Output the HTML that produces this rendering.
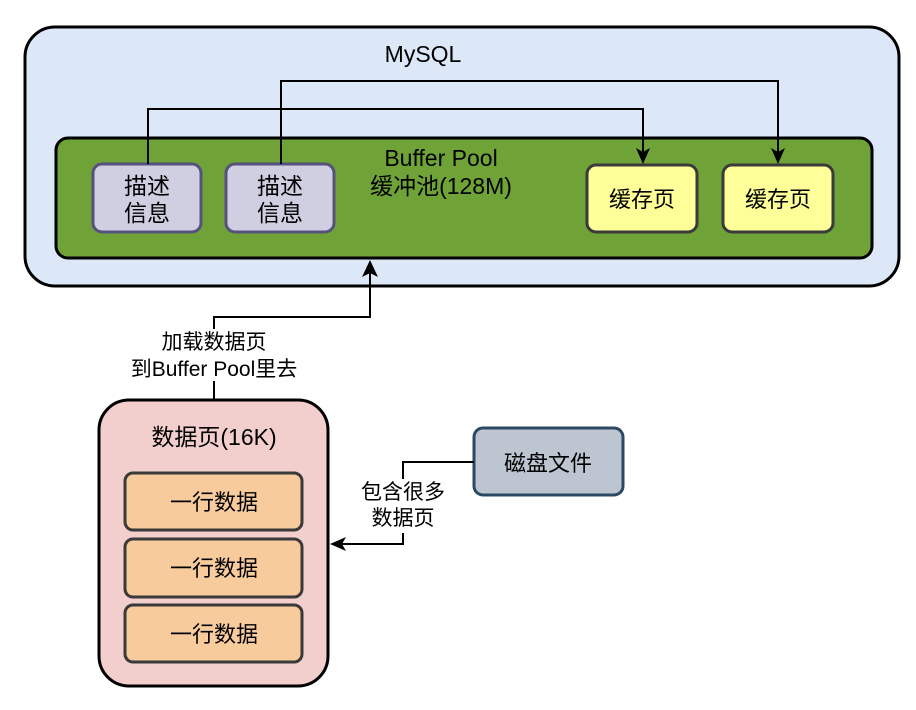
<!DOCTYPE html>
<html><head><meta charset="utf-8"><style>
html,body{margin:0;padding:0;background:#fff;}
svg{display:block;}
text{font-family:"Liberation Sans","Noto Sans CJK SC",sans-serif;fill:#000;}
</style></head><body>
<svg width="916" height="710" viewBox="0 0 916 710" xmlns="http://www.w3.org/2000/svg">
<!-- MySQL -->
<rect x="25" y="27" width="874" height="259" rx="30" fill="#dce7f8" stroke="#000" stroke-width="3"/>
<text x="423" y="62" font-size="23" text-anchor="middle">MySQL</text>
<!-- Buffer pool -->
<rect x="56" y="138" width="816" height="120" rx="12" fill="#6fa337" stroke="#000" stroke-width="3"/>
<text x="441" y="166" font-size="23" text-anchor="middle">Buffer Pool</text>
<text x="441" y="194" font-size="23" text-anchor="middle">缓冲池(128M)</text>
<!-- desc boxes -->
<rect x="93" y="164" width="108" height="68" rx="9" fill="#d0cfe2" stroke="#56517e" stroke-width="3"/>
<text x="147" y="194" font-size="23" text-anchor="middle">描述</text>
<text x="147" y="221" font-size="23" text-anchor="middle">信息</text>
<rect x="226" y="164" width="108" height="68" rx="9" fill="#d0cfe2" stroke="#56517e" stroke-width="3"/>
<text x="280" y="194" font-size="23" text-anchor="middle">描述</text>
<text x="280" y="221" font-size="23" text-anchor="middle">信息</text>
<!-- cache boxes -->
<rect x="587" y="165" width="110" height="67" rx="9" fill="#ffff99" stroke="#3a3a3a" stroke-width="3"/>
<text x="642" y="207" font-size="22" text-anchor="middle">缓存页</text>
<rect x="723" y="165" width="110" height="67" rx="9" fill="#ffff99" stroke="#3a3a3a" stroke-width="3"/>
<text x="778" y="207" font-size="22" text-anchor="middle">缓存页</text>
<!-- connectors top -->
<polyline points="148,164 148,109 643,109 643,152" fill="none" stroke="#000" stroke-width="2"/>
<polygon points="643,164 636,148 643,152 650,148" fill="#000"/>
<polyline points="281,164 281,81 778,81 778,152" fill="none" stroke="#000" stroke-width="2"/>
<polygon points="778,164 771,148 778,152 785,148" fill="#000"/>
<!-- load connector -->
<polyline points="214,400 214,317 370,317 370,272" fill="none" stroke="#000" stroke-width="2"/>
<polygon points="370,260 362,277 370,273 378,277" fill="#000"/>
<rect x="125" y="329" width="180" height="52" fill="#fff"/>
<text x="214" y="349" font-size="21" text-anchor="middle">加载数据页</text>
<text x="214" y="376" font-size="21" text-anchor="middle">到Buffer Pool里去</text>
<!-- data page -->
<rect x="99" y="400" width="229" height="286" rx="30" fill="#f2cfcd" stroke="#000" stroke-width="3"/>
<text x="214" y="445" font-size="23" text-anchor="middle">数据页(16K)</text>
<rect x="125" y="473" width="177" height="57" rx="8" fill="#f7cb9c" stroke="#3a3a3a" stroke-width="3"/>
<text x="214" y="510" font-size="22" text-anchor="middle">一行数据</text>
<rect x="125" y="539" width="177" height="58" rx="8" fill="#f7cb9c" stroke="#3a3a3a" stroke-width="3"/>
<text x="214" y="576" font-size="22" text-anchor="middle">一行数据</text>
<rect x="125" y="605" width="177" height="57" rx="8" fill="#f7cb9c" stroke="#3a3a3a" stroke-width="3"/>
<text x="214" y="642" font-size="22" text-anchor="middle">一行数据</text>
<!-- disk -->
<rect x="474" y="428" width="149" height="67" rx="9" fill="#bdc6d0" stroke="#2c4863" stroke-width="3"/>
<text x="548" y="471" font-size="22" text-anchor="middle">磁盘文件</text>
<polyline points="474,462 403,462 403,544 342,544" fill="none" stroke="#000" stroke-width="2"/>
<polygon points="330,544 346,537 342,544 346,551" fill="#000"/>
<rect x="356" y="479" width="94" height="54" fill="#fff"/>
<text x="403" y="499" font-size="21" text-anchor="middle">包含很多</text>
<text x="403" y="525" font-size="21" text-anchor="middle">数据页</text>
</svg>
</body></html>
